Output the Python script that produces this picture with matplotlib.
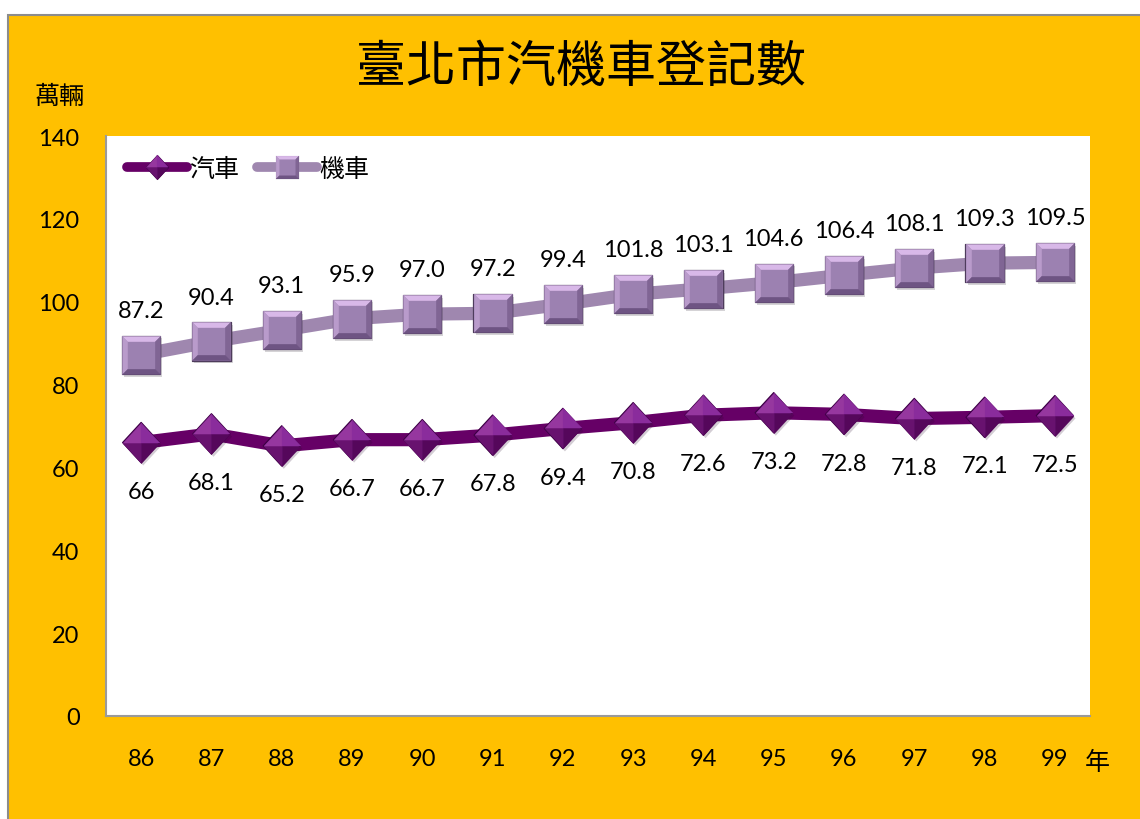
import matplotlib.pyplot as plt
import matplotlib.patheffects as pe
from matplotlib.lines import Line2D
from matplotlib.path import Path
from matplotlib.patches import Rectangle

# data
years = ['86', '87', '88', '89', '90', '91', '92', '93', '94', '95', '96', '97', '98', '99']
car = [66, 68.1, 65.2, 66.7, 66.7, 67.8, 69.4, 70.8, 72.6, 73.2, 72.8, 71.8, 72.1, 72.5]
car_labels = ['66', '68.1', '65.2', '66.7', '66.7', '67.8', '69.4', '70.8', '72.6', '73.2', '72.8', '71.8', '72.1', '72.5']
moto = [87.2, 90.4, 93.1, 95.9, 97.0, 97.2, 99.4, 101.8, 103.1, 104.6, 106.4, 108.1, 109.3, 109.5]
moto_labels = ['87.2', '90.4', '93.1', '95.9', '97.0', '97.2', '99.4', '101.8', '103.1', '104.6', '106.4', '108.1', '109.3', '109.5']

CJK = ['Noto Sans CJK TC', 'DejaVu Sans']
NUM = ['Lato', 'DejaVu Sans']

ORANGE = '#FFC000'
CAR_LINE = '#660066'
MOTO_LINE = '#9F87AF'


def poly(pts):
    return Path(pts + [pts[0]], [Path.MOVETO] + [Path.LINETO] * (len(pts) - 1) + [Path.CLOSEPOLY])


# bevelled square: flat face plus four sloping sides
k = 0.72
sq_full = poly([(-1, -1), (1, -1), (1, 1), (-1, 1)])
sq_top = poly([(-1, 1), (1, 1), (k, k), (-k, k)])
sq_left = poly([(-1, -1), (-1, 1), (-k, k), (-k, -k)])
sq_right = poly([(1, -1), (k, -k), (k, k), (1, 1)])
sq_bottom = poly([(-1, -1), (-k, -k), (k, -k), (1, -1)])

# pyramid diamond: four facets meeting in the middle
w = 0.92
dm_full = poly([(0, 1), (w, 0), (0, -1), (-w, 0)])
dm_tl = poly([(0, 1), (-w, 0), (0, 0)])
dm_tr = poly([(0, 1), (0, 0), (w, 0)])
dm_bl = poly([(-w, 0), (0, -1), (0, 0)])
dm_br = poly([(0, 0), (0, -1), (w, 0)])

moto_facets = [(sq_full, '#9C81B1'), (sq_top, '#D8B8E8'), (sq_left, '#B99BCB'),
               (sq_right, '#806594'), (sq_bottom, '#6E5483')]
car_facets = [(dm_full, '#7A1F8B'), (dm_tl, '#96379F'), (dm_tr, '#8A2C9C'),
              (dm_bl, '#68126F'), (dm_br, '#55075B')]

fig = plt.figure(figsize=(11.4, 8.2), dpi=100, facecolor='white')
fig.patches.append(Rectangle((8 / 1140, -0.01), 1.0, (820 - 16) / 820 + 0.01,
                             transform=fig.transFigure, facecolor=ORANGE,
                             edgecolor='#8C8C8C', linewidth=1.5, zorder=-1))

ax = fig.add_axes([106 / 1140, 1 - 717 / 820, (1090 - 106) / 1140, (717 - 137) / 820])
ax.set_facecolor('white')
x = list(range(len(years)))


def draw_series(vals, line_color, facets, size, edge):
    ax.plot(x, vals, color=line_color, lw=9.5, solid_capstyle='round', zorder=2)
    handles = [Line2D([0], [0], color=line_color, lw=7, solid_capstyle='round')]
    for i, (m, c) in enumerate(facets):
        kw = dict(linestyle='none', marker=m, markersize=size, markerfacecolor=c,
                  markeredgecolor=edge if i == 0 else c, markeredgewidth=0.9 if i == 0 else 0.2,
                  zorder=3 + i)
        if i == 0:
            kw['path_effects'] = [pe.SimplePatchShadow(offset=(1.5, -2), alpha=0.2), pe.Normal()]
        ax.plot(x, vals, **kw)
        handles.append(Line2D([0], [0], linestyle='none', marker=m, markersize=size * 0.6,
                              markerfacecolor=c, markeredgecolor=edge if i == 0 else c,
                              markeredgewidth=0.7 if i == 0 else 0.2))
    return tuple(handles)


h_moto = draw_series(moto, MOTO_LINE, moto_facets, 27.5, '#4E3C5C')
h_car = draw_series(car, CAR_LINE, car_facets, 29, '#3E0046')

for xi, v, s in zip(x, moto, moto_labels):
    ax.annotate(s, (xi, v), xytext=(0, 32), textcoords='offset points',
                ha='center', va='center', fontsize=17, family=NUM)
for xi, v, s in zip(x, car, car_labels):
    ax.annotate(s, (xi, v), xytext=(0, -35), textcoords='offset points',
                ha='center', va='center', fontsize=17, family=NUM)

ax.set_xlim(-0.5, len(years) - 0.5)
ax.set_ylim(0, 140)
ax.set_yticks(range(0, 141, 20))
ax.set_xticks(x)
ax.set_xticklabels(years)
ax.tick_params(axis='both', length=0, labelsize=17)
ax.tick_params(axis='x', pad=23)
ax.tick_params(axis='y', pad=19)
for lab in ax.get_xticklabels() + ax.get_yticklabels():
    lab.set_family(NUM)
for side in ['top', 'right']:
    ax.spines[side].set_visible(False)
for side in ['left', 'bottom']:
    ax.spines[side].set_color('#9A9A9A')
    ax.spines[side].set_linewidth(1.5)

leg = ax.legend([h_car, h_moto], ['汽車', '機車'], loc='center left', ncol=2,
                frameon=False, prop={'family': CJK, 'size': 18},
                handlelength=2.4, handletextpad=0.1, columnspacing=0.7,
                bbox_to_anchor=(0.011, 0.943), borderaxespad=0)

fig.text(581 / 1140, 1 - 68 / 820, '臺北市汽機車登記數', ha='center', va='center',
         fontsize=36, family=CJK)
fig.text(59 / 1140, 1 - 97 / 820, '萬輛', ha='center', va='center', fontsize=18, family=CJK)
fig.text(1097 / 1140, 1 - 763 / 820, '年', ha='center', va='center', fontsize=18, family=CJK)

fig.savefig('out.png', dpi=100, facecolor=fig.get_facecolor())
